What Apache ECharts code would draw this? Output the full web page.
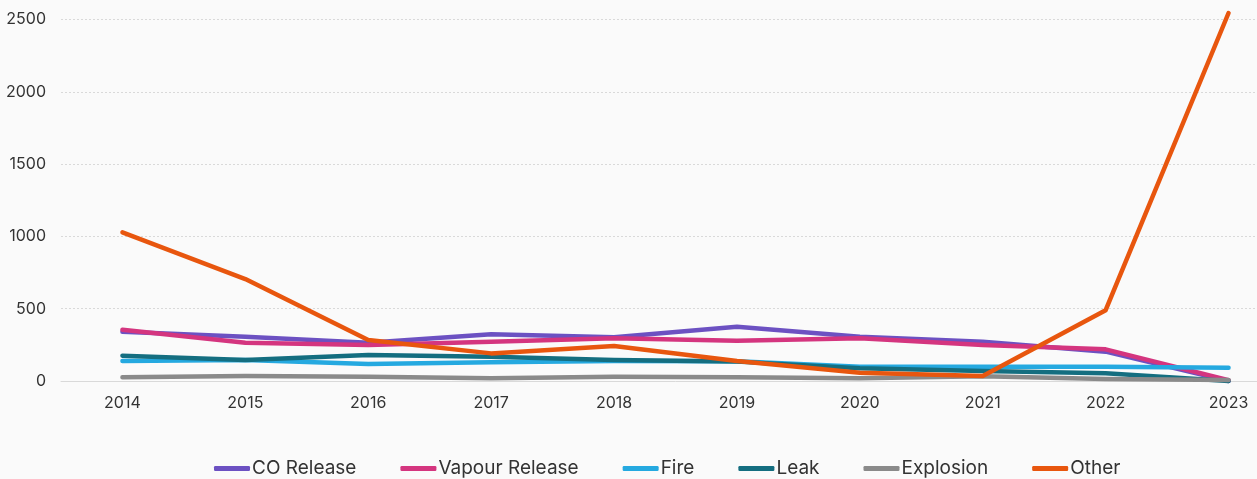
<!DOCTYPE html>
<html>
<head>
<meta charset="utf-8">
<style>
  html, body { margin: 0; padding: 0; background: #fafafa; overflow: hidden; }
  /* the plot is wider than the window: the last year's band runs past the right edge */
  #chart { width: 1290px; height: 479px; }
</style>
<script src="https://cdn.jsdelivr.net/npm/echarts@6/dist/echarts.min.js"></script>
</head>
<body>
<div id="chart"></div>
<script>
// Incidents by type, per year
const years = ['2014', '2015', '2016', '2017', '2018', '2019', '2020', '2021', '2022', '2023'];
const coRelease     = [340, 306, 265, 323, 302, 375, 306, 272, 203, 0];
const vapourRelease = [355, 265, 249, 272, 295, 279, 295, 249, 219, 5];
const fire          = [138, 145, 117, 129, 138, 136, 99, 99, 99, 92];
const leak          = [175, 145, 180, 168, 145, 134, 88, 69, 53, 0];
const explosion     = [26, 35, 30, 19, 30, 26, 19, 32, 14, 7];
const other         = [1028, 705, 283, 191, 242, 138, 57, 35, 490, 2545];
const yTicks = { min: 0, max: 2500, step: 500 };

const seriesDefs = [
  { name: 'CO Release', data: coRelease, color: '#6c51c2' },
  { name: 'Vapour Release', data: vapourRelease, color: '#d4357f' },
  { name: 'Fire', data: fire, color: '#25a9e0' },
  { name: 'Leak', data: leak, color: '#146e80' },
  { name: 'Explosion', data: explosion, color: '#8a8a8a' },
  { name: 'Other', data: other, color: '#e8560e' }
];

const font = 'Inter, "Noto Sans", sans-serif';
const chart = echarts.init(document.getElementById('chart'), null, { renderer: 'canvas' });

chart.setOption({
  backgroundColor: '#fafafa',
  animation: false,
  grid: { left: 61, top: 19.5, bottom: 98, right: 0, containLabel: false },
  legend: {
    top: 454,
    left: 209,
    itemWidth: 36,
    itemHeight: 5,
    itemGap: 44,
    icon: 'roundRect',
    textStyle: { fontFamily: font, fontSize: 19, color: '#333', padding: [0, 0, 0, -3] },
    data: seriesDefs.map(s => s.name)
  },
  xAxis: {
    type: 'category',
    data: years,
    boundaryGap: true,
    axisLine: { lineStyle: { color: '#d9d9d9', width: 1 } },
    axisTick: { show: false },
    axisLabel: { fontFamily: font, fontSize: 16, color: '#333', margin: 14 }
  },
  yAxis: {
    type: 'value',
    min: yTicks.min,
    max: yTicks.max,
    interval: yTicks.step,
    axisLine: { show: false },
    axisTick: { show: false },
    axisLabel: { fontFamily: font, fontSize: 16, color: '#333', margin: 15, formatter: v => String(v) },
    splitLine: { lineStyle: { color: '#d9d9d9', type: [2, 2], width: 1 } }
  },
  series: seriesDefs.map(s => ({
    name: s.name,
    type: 'line',
    data: s.data,
    clip: false,
    showSymbol: false,
    symbol: 'none',
    color: s.color,
    lineStyle: { width: 4.5, color: s.color, cap: 'round', join: 'round' }
  }))
});
</script>
</body>
</html>
